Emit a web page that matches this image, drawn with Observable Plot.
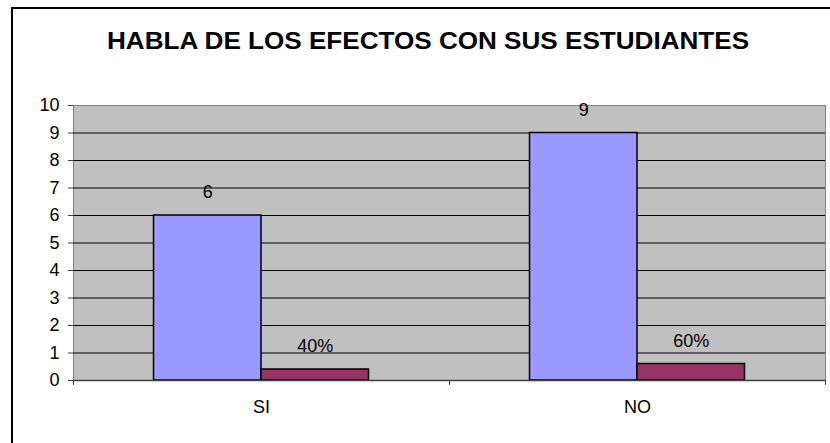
<!DOCTYPE html>
<html><head><meta charset="utf-8">
<script src="https://cdn.jsdelivr.net/npm/d3@7"></script>
<script src="https://cdn.jsdelivr.net/npm/@observablehq/plot@0.6"></script>
<style>
body{margin:0;background:#fff;font-family:"Liberation Sans",Arial,sans-serif;}
#wrap{position:relative;width:830px;height:443px;overflow:hidden;background:#fff;}
#border{position:absolute;left:11px;top:7px;width:900px;height:500px;border:2px solid #000;}
#title{position:absolute;left:107px;top:29px;font-size:23.5px;line-height:24px;font-weight:bold;white-space:nowrap;color:#000;transform:scaleX(1.11);transform-origin:0 0;}
#chart{position:absolute;left:0;top:60px;}
</style></head><body>
<div id="wrap"><div id="border"></div><div id="title"></div><div id="chart"></div></div>
<script>
const titleText = "HABLA DE LOS EFECTOS CON SUS ESTUDIANTES";
const categories = ["SI", "NO"];
const counts = [6, 9];
const shares = [0.4, 0.6];
const shareLabels = ["40%", "60%"];
const yTicks = [0, 1, 2, 3, 4, 5, 6, 7, 8, 9, 10];

document.getElementById("title").textContent = titleText;

const countRows = categories.map((c, i) => ({cat: c, value: counts[i], label: String(counts[i])}));
const shareRows = categories.map((c, i) => ({cat: c, value: shares[i], label: shareLabels[i]}));

const W = 830, H = 383, mL = 73, mR = 5, mT = 45, mB = 63;
const band = (W - mL - mR) / categories.length;
const barW = 107.5;
const outer = (band - 2 * barW) / 2;

const chart = Plot.plot({
  width: W, height: H,
  marginLeft: mL, marginRight: mR, marginTop: mT, marginBottom: mB,
  style: {fontSize: "18px", fontFamily: "'Liberation Sans', Arial, sans-serif", color: "#000", background: "transparent", overflow: "visible"},
  x: {domain: categories, padding: 0},
  y: {domain: [0, 10]},
  marks: [
    Plot.frame({fill: "#c0c0c0", stroke: "#808080"}),
    Plot.ruleY(yTicks.filter(t => t > 0 && t < 10), {stroke: "#000", strokeWidth: 1}),
    Plot.barY(countRows, {x: "cat", y: "value", fill: "#9999ff", stroke: "#000", strokeWidth: 1.5, insetLeft: outer, insetRight: band - outer - barW}),
    Plot.barY(shareRows, {x: "cat", y: "value", fill: "#993366", stroke: "#000", strokeWidth: 1.5, insetLeft: outer + barW, insetRight: outer}),
    Plot.ruleY([0], {stroke: "#404040", strokeWidth: 1.5}),
    Plot.ruleX(categories, {x: d => d, dx: -band / 2, stroke: "#404040", insetTop: H - mT - mB, insetBottom: -5}),
    Plot.ruleX([categories[categories.length - 1]], {x: d => d, dx: band / 2, stroke: "#404040", insetTop: H - mT - mB, insetBottom: -5}),
    Plot.axisY({ticks: yTicks, tickSize: 5, tickPadding: 9, label: null, tickFormat: d => String(d), fontSize: 18, fill: "#000", stroke: "#404040"}),
    Plot.axisX({tickSize: 0, tickPadding: 20, label: null, fontSize: 18, fill: "#000"}),
    Plot.text(countRows, {x: "cat", y: "value", text: "label", dx: -(barW / 2), dy: -23, fill: "#000", fontSize: 18}),
    Plot.text(shareRows, {x: "cat", y: "value", text: "label", dx: barW / 2, dy: -23, fill: "#000", fontSize: 18})
  ]
});
document.getElementById("chart").appendChild(chart);
</script>
</body></html>
